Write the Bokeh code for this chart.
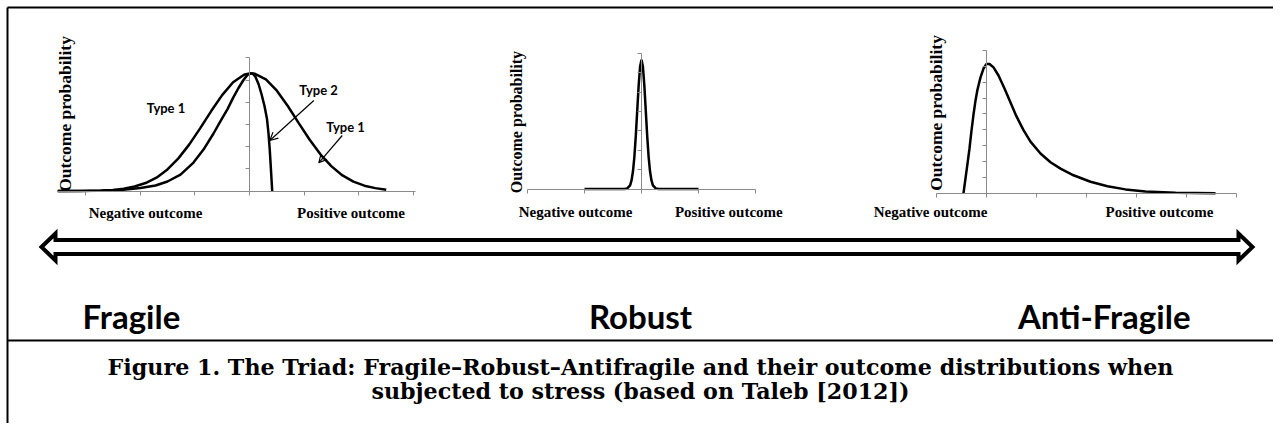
import math
from bokeh.plotting import figure
from bokeh.models import Range1d, LinearAxis, FixedTicker, Arrow, OpenHead, Label
from bokeh.embed import file_html
from bokeh.resources import INLINE

# ---------------- data ----------------
# Fragile panel: Type 1 (normal) and Type 2 (truncated on the right)
frag_t1_x = [-3.5, -3.3, -3.1, -2.9, -2.7, -2.5, -2.3, -2.1, -1.9, -1.7, -1.5, -1.3, -1.1, -0.9,
             -0.7, -0.5, -0.3, -0.1, 0.0, 0.1, 0.3, 0.5, 0.7, 0.9, 1.1, 1.3, 1.5, 1.7, 1.9, 2.1, 2.3, 2.5]
frag_t1_y = [0.0, 0.0, 0.0, 0.01, 0.02, 0.05, 0.10, 0.20, 0.36, 0.60, 0.97, 1.47, 2.10, 2.83,
             3.60, 4.32, 4.90, 5.24, 5.30, 5.28, 5.03, 4.52, 3.83, 3.06, 2.31, 1.64, 1.11, 0.70, 0.42, 0.24, 0.13, 0.06]
frag_t2_x = [-3.51, -2.724, -2.358, -1.993, -1.718, -1.499, -1.261, -1.024, -0.841, -0.658, -0.530,
             -0.402, -0.293, -0.201, -0.110, -0.037, 0.031, 0.064, 0.110, 0.165, 0.219, 0.274, 0.320,
             0.347, 0.371, 0.393, 0.415]
frag_t2_y = [0.0, 0.01, 0.045, 0.135, 0.248, 0.428, 0.74, 1.28, 1.866, 2.59, 3.15,
             3.69, 4.23, 4.64, 5.0, 5.23, 5.30, 5.28, 5.14, 4.82, 4.37, 3.83, 3.24,
             2.61, 1.83, 0.93, 0.0]
frag_x_ticks = [-3, -2, -1, 0, 1, 2, 3]
frag_y_ticks = [0, 1, 2, 3, 4, 5, 6]

# Robust panel: narrow spike
rob_x = [-1.0, -0.3, -0.25, -0.2, -0.175, -0.15, -0.125, -0.1, -0.075, -0.05, -0.025, 0.0,
         0.025, 0.05, 0.075, 0.1, 0.125, 0.15, 0.175, 0.2, 0.25, 0.3, 1.0]
rob_y = [0.0, 0.0, 0.03, 0.19, 0.44, 0.90, 1.66, 2.74, 4.04, 5.33, 6.30, 6.66,
         6.30, 5.33, 4.04, 2.74, 1.66, 0.90, 0.44, 0.19, 0.03, 0.0, 0.0]
rob_x_ticks = [-2, -1, 0, 1, 2]
rob_y_ticks = [0, 1, 2, 3, 4, 5, 6, 7]

# Anti-fragile panel: right-skewed, long right tail
anti_x = [-0.46, -0.42, -0.38, -0.34, -0.30, -0.26, -0.22, -0.18, -0.12, -0.06, 0.0, 0.06, 0.14,
          0.24, 0.36, 0.48, 0.60, 0.74, 0.88, 1.08, 1.28, 1.48, 1.74, 2.08, 2.42, 2.78, 3.18, 3.78, 4.58]
anti_y = [0.0, 0.93, 1.87, 2.82, 3.95, 4.96, 5.84, 6.54, 7.30, 7.86, 8.15, 8.15, 7.93,
          7.42, 6.60, 5.72, 4.84, 3.98, 3.25, 2.50, 1.95, 1.55, 1.13, 0.72, 0.44, 0.24, 0.11, 0.03, 0.0]
anti_x_ticks = [-1, 0, 1, 2, 3, 4, 5]
anti_y_ticks = [0, 1, 2, 3, 4, 5, 6, 7, 8, 9]

axis_x_labels = ["Negative outcome", "Positive outcome"]
axis_y_label = "Outcome probability"
type_labels = ["Type 1", "Type 2", "Type 1"]
triad_labels = ["Fragile", "Robust", "Anti-Fragile"]
caption_lines = ["Figure 1. The Triad: Fragile\u2013Robust\u2013Antifragile and their outcome distributions when",
                 "subjected to stress (based on Taleb [2012])"]

# ---------------- figure ----------------
W, H = 1273, 423
p = figure(width=W, height=H, x_range=Range1d(0, W), y_range=Range1d(H, 0),
           x_axis_type=None, y_axis_type=None, output_backend="svg", toolbar_location=None,
           min_border=0, background_fill_color="white", border_fill_color="white")
p.grid.visible = False
p.outline_line_color = None

# panel coordinate systems: origin pixel and pixels per unit
panels = {
    "frag": dict(ox=249, oy=190.5, ux=54.7, uy=22.2),
    "rob": dict(ox=641, oy=188.5, ux=57.0, uy=19.4),
    "anti": dict(ox=986, oy=192.7, ux=50.0, uy=15.86),
}
ex, ey = {}, {}
for name, g in panels.items():
    ex[name] = Range1d((0 - g["ox"]) / g["ux"], (W - g["ox"]) / g["ux"])
    ey[name] = Range1d((g["oy"] - H) / g["uy"], (g["oy"] - 0) / g["uy"])
p.extra_x_ranges = ex
p.extra_y_ranges = ey

AX = "#8a8a8a"


def panel_axes(name, xb, xt, yt):
    xa = LinearAxis(x_range_name=name, y_range_name=name, fixed_location=0, bounds=xb,
                    ticker=FixedTicker(ticks=xt), major_label_text_color=None,
                    major_label_text_font_size="0px", major_tick_out=4, major_tick_in=0,
                    minor_tick_line_color=None, axis_line_color=AX, major_tick_line_color=AX,
                    axis_line_width=1)
    p.add_layout(xa, "below")
    ya = LinearAxis(x_range_name=name, y_range_name=name, fixed_location=0,
                    bounds=(yt[0], yt[-1]),
                    ticker=FixedTicker(ticks=yt), major_label_text_color=None,
                    major_label_text_font_size="0px", major_tick_out=4, major_tick_in=0,
                    minor_tick_line_color=None, axis_line_color=AX, major_tick_line_color=AX,
                    axis_line_width=1)
    p.add_layout(ya, "left")


panel_axes("frag", (-3.51, 3.03), frag_x_ticks, frag_y_ticks)
panel_axes("rob", (rob_x_ticks[0], rob_x_ticks[-1]), rob_x_ticks, rob_y_ticks)
panel_axes("anti", (anti_x_ticks[0], anti_x_ticks[-1]), anti_x_ticks, anti_y_ticks)

LW = 2.5
p.line(frag_t1_x, frag_t1_y, x_range_name="frag", y_range_name="frag", line_color="black", line_width=LW)
p.line(frag_t2_x, frag_t2_y, x_range_name="frag", y_range_name="frag", line_color="black", line_width=LW)
p.line(rob_x, rob_y, x_range_name="rob", y_range_name="rob", line_color="black", line_width=LW)
p.line(anti_x, anti_y, x_range_name="anti", y_range_name="anti", line_color="black", line_width=LW)

SERIF = "Liberation Serif"
SANS = "Lato"


def lab(name, x, y, text, size, font, angle=0.0, align="center", baseline="middle"):
    kw = {} if name is None else dict(x_range_name=name, y_range_name=name)
    p.add_layout(Label(x=x, y=y, text=text, text_font=font, text_font_style="bold",
                       text_font_size=size, text_align=align, text_baseline=baseline,
                       angle=angle, text_color="black", **kw))


# axis titles
lab("frag", -1.90, -0.97, axis_x_labels[0], "15px", SERIF)
lab("frag", 1.856, -0.97, axis_x_labels[1], "15px", SERIF)
lab("rob", -1.158, -1.16, axis_x_labels[0], "15px", SERIF)
lab("rob", 1.532, -1.16, axis_x_labels[1], "15px", SERIF)
lab("anti", -1.12, -1.154, axis_x_labels[0], "15px", SERIF)
lab("anti", 3.46, -1.154, axis_x_labels[1], "15px", SERIF)
lab("frag", -3.364, 3.47, axis_y_label, "17.5px", SERIF, angle=math.pi / 2)
lab("rob", -2.193, 3.45, axis_y_label, "16px", SERIF, angle=math.pi / 2)
lab("anti", -1.02, 5.06, axis_y_label, "17.5px", SERIF, angle=math.pi / 2)

# Type annotations with arrows
lab("frag", -1.527, 3.74, type_labels[0], "13px", SANS)
lab("frag", 1.261, 4.572, type_labels[1], "13px", SANS)
lab("frag", 1.755, 2.883, type_labels[2], "13px", SANS)
for (xs, ys, xe, ye) in [(1.176, 4.077, 0.371, 2.275), (1.695, 2.5, 1.267, 1.27)]:
    p.add_layout(Arrow(x_start=xs, y_start=ys, x_end=xe, y_end=ye, x_range_name="frag",
                       y_range_name="frag", line_color="black", line_width=1.2,
                       end=OpenHead(size=8, line_width=1.2, line_color="black")))

# big double hollow arrow (page pixel geometry)
tipL, baseL, baseR, tipR = 41, 55, 1238, 1252
ym, sh, hh = 246.5, 7.0, 13.5
arrow_xs = [tipL, baseL, baseL, baseR, baseR, tipR, baseR, baseR, baseL, baseL]
arrow_ys = [ym, ym - hh, ym - sh, ym - sh, ym - hh, ym, ym + hh, ym + sh, ym + sh, ym + hh]
p.patch(arrow_xs, arrow_ys, fill_color=None, line_color="black", line_width=4, line_join="miter")

# triad labels
lab(None, 82, 315, triad_labels[0], "33px", SANS, align="left", baseline="alphabetic")
lab(None, 640, 315, triad_labels[1], "33px", SANS, align="center", baseline="alphabetic")
lab(None, 1190, 315, triad_labels[2], "33px", SANS, align="right", baseline="alphabetic")

# frame lines
p.segment(x0=[7, 7, 7], y0=[7, 7, 340], x1=[W, 7, W], y1=[7, H, 340],
          line_color="black", line_width=2)

# caption
for i, t in enumerate(caption_lines):
    lab(None, 640, 366 + 24 * i, t, "22.2px", "DejaVu Serif", align="center", baseline="alphabetic")

open("out.html", "w").write(file_html(p, INLINE))
